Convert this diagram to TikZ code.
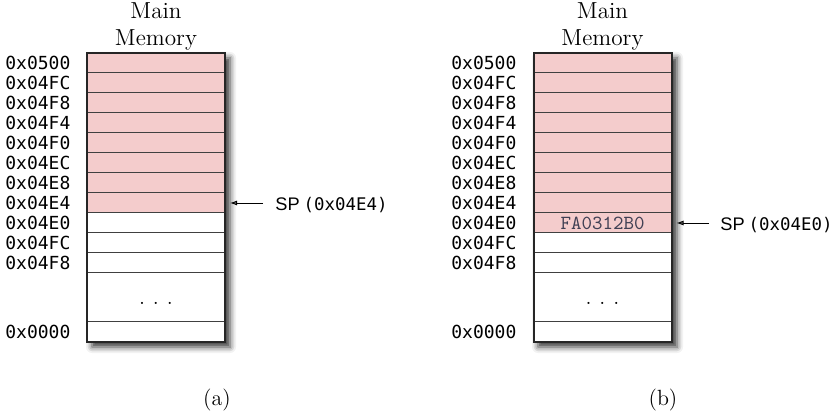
\documentclass[tikz,border=0pt]{standalone}
\usepackage{fontspec}
\newfontfamily\addrfont{DejaVu Sans Mono}
\newfontfamily\spsans{Liberation Sans}
\usetikzlibrary{shadows.blur,arrows.meta}
\definecolor{cellpink}{RGB}{244,204,204}
\definecolor{valcol}{RGB}{64,64,84}
\newcommand{\spaddrtext}[1]{{\addrfont\fontsize{8.7}{10}\selectfont #1}}
\begin{document}
\begin{tikzpicture}[x=0.5pt,y=-0.5pt,
  cell/.style={draw=black!75, line width=0.5pt, minimum width=69pt, minimum height=10pt, inner sep=0pt, outer sep=0pt},
  pinkcell/.style={cell, fill=cellpink},
  whitecell/.style={cell, fill=white},
  addr/.style={font=\addrfont\fontsize{9}{10}\selectfont, anchor=west, inner sep=0pt},
  title/.style={font=\fontsize{11.6}{13.5}\selectfont, align=center, anchor=south, inner sep=0pt},
  splabel/.style={font=\spsans\fontsize{9.1}{10}\selectfont, anchor=base west, inner sep=0pt},
  ptr/.style={-{Latex[length=3.5pt,width=2.5pt]}, line width=0.45pt, shorten >=2.5pt},
  frame/.style={draw=black!85, line width=1pt},
  caption/.style={font=\fontsize{11}{13}\selectfont, inner sep=0pt},
  value/.style={font=\ttfamily\fontsize{10}{11}\selectfont, text=valcol, inner sep=0pt},
  shadowed/.style={blur shadow={shadow xshift=2.5pt, shadow yshift=-2.5pt, shadow blur radius=3pt, shadow opacity=80}}]
\useasboundingbox (0,0) rectangle (831,416);
% ---------- panel (a) ----------
\fill[white, shadowed] (87,53) rectangle (225,342);
\foreach \i/\lab in {1/0x0500,2/0x04FC,3/0x04F8,4/0x04F4,5/0x04F0,6/0x04EC,7/0x04E8,8/0x04E4}{
  \node[pinkcell] (a\i) at (156,43+20*\i) {};
  \node[addr] (la\i) at (5,43+20*\i) {\lab};
}
\foreach \i/\lab in {9/0x04E0,10/0x04FC,11/0x04F8}{
  \node[whitecell] (a\i) at (156,43+20*\i) {};
  \node[addr] (la\i) at (5,43+20*\i) {\lab};
}
\node[whitecell, minimum height=24.5pt] (a12) at (156,297.5) {};
\node[font=\fontsize{11}{13}\selectfont, anchor=base, inner sep=0pt] (dotsa) at (156,305) {.\hspace{4pt}.\hspace{4pt}.};
\node[whitecell] (a13) at (156,332) {};
\node[addr] (la13) at (5,332) {0x0000};
\draw[frame] (a1.north west) rectangle (a13.south east);
\node[title] (ta) at (156,51) {Main\\Memory};
\node[splabel] (spa) at (275,211) {SP\hspace{2pt}\spaddrtext{(0x04E4)}};
\coordinate (spastart) at (263,203);
\draw[ptr] (spastart) -- (a8.east);
\node[caption] (capa) at (217,400) {(a)};
% ---------- panel (b) ----------
\fill[white, shadowed] (533,53) rectangle (672,342);
\foreach \i/\lab in {1/0x0500,2/0x04FC,3/0x04F8,4/0x04F4,5/0x04F0,6/0x04EC,7/0x04E8,8/0x04E4,9/0x04E0}{
  \node[pinkcell] (b\i) at (602.5,43+20*\i) {};
  \node[addr] (lb\i) at (451,43+20*\i) {\lab};
}
\foreach \i/\lab in {10/0x04FC,11/0x04F8}{
  \node[whitecell] (b\i) at (602.5,43+20*\i) {};
  \node[addr] (lb\i) at (451,43+20*\i) {\lab};
}
\node[whitecell, minimum height=24.5pt] (b12) at (602.5,297.5) {};
\node[font=\fontsize{11}{13}\selectfont, anchor=base, inner sep=0pt] (dotsb) at (602.5,305) {.\hspace{4pt}.\hspace{4pt}.};
\node[whitecell] (b13) at (602.5,332) {};
\node[addr] (lb13) at (451,332) {0x0000};
\draw[frame] (b1.north west) rectangle (b13.south east);
\node[value] (val) at (b9) {FA0312B0};
\node[title] (tb) at (602.5,51) {Main\\Memory};
\node[splabel] (spb) at (720,231) {SP\hspace{2pt}\spaddrtext{(0x04E0)}};
\coordinate (spbstart) at (709,223);
\draw[ptr] (spbstart) -- (b9.east);
\node[caption] (capb) at (663,400) {(b)};
\end{tikzpicture}
\end{document}
